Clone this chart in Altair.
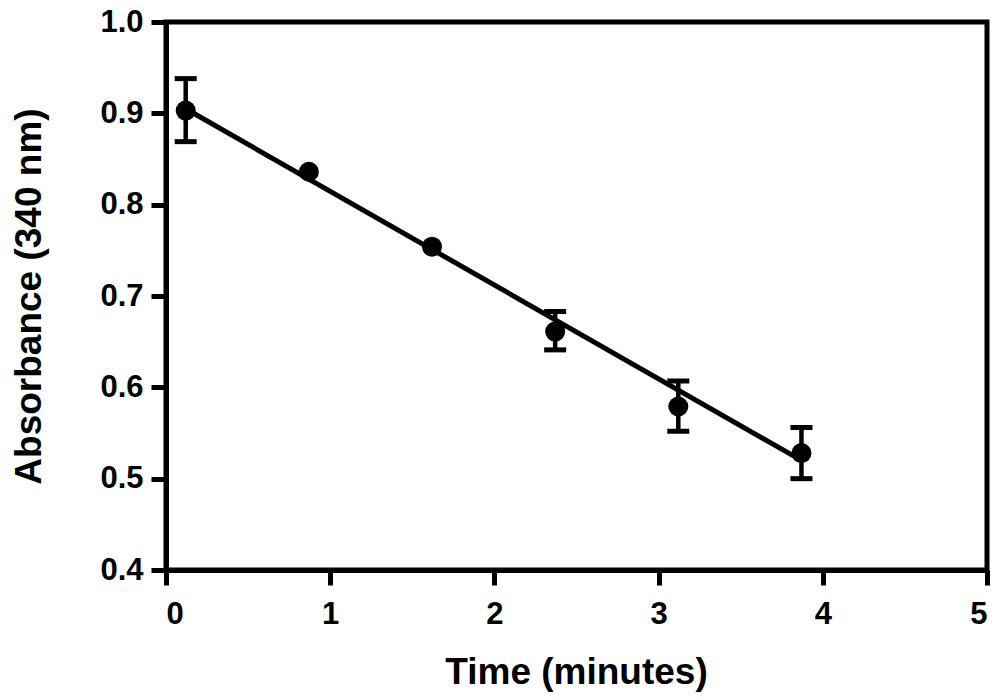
import altair as alt
import pandas as pd

# Absorbance at 340 nm over time (mean ± SD)
time_min = [0.12, 0.87, 1.62, 2.37, 3.12, 3.87]
absorbance = [0.903, 0.836, 0.754, 0.661, 0.579, 0.528]
err_low = [0.869, 0.836, 0.754, 0.641, 0.552, 0.500]
err_high = [0.938, 0.836, 0.754, 0.683, 0.607, 0.556]

# Linear fit endpoints
fit_time = [0.12, 3.87]
fit_abs = [0.905, 0.520]

x_ticks = [0, 1, 2, 3, 4, 5]
y_ticks = [0.4, 0.5, 0.6, 0.7, 0.8, 0.9, 1.0]

pts = pd.DataFrame({"t": time_min, "a": absorbance, "lo": err_low, "hi": err_high})
fit = pd.DataFrame({"t": fit_time, "a": fit_abs})
bars = pts[pts["hi"] > pts["lo"]]

FONT = "Liberation Sans"

x_enc = alt.X(
    "t:Q",
    scale=alt.Scale(domain=[0, 5], nice=False, zero=False),
    axis=alt.Axis(
        title="Time (minutes)",
        values=x_ticks,
        format="d",
        titleX=410,
        titleY=113,
        titleBaseline="alphabetic",
    ),
)
y_enc = alt.Y(
    "a:Q",
    scale=alt.Scale(domain=[0.4, 1.0], nice=False, zero=False),
    axis=alt.Axis(
        title="Absorbance (340 nm)",
        values=y_ticks,
        format=".1f",
        titleX=-126,
        titleY=274,
        titleBaseline="alphabetic",
        labelBaseline="middle",
    ),
)

line = alt.Chart(fit).mark_line(color="black", strokeWidth=5).encode(x=x_enc, y=y_enc)

stems = alt.Chart(bars).mark_rule(color="black", strokeWidth=4.5, opacity=1).encode(
    x="t:Q", y="lo:Q", y2="hi:Q"
)
caps_hi = alt.Chart(bars).mark_tick(
    color="black", orient="horizontal", size=22, thickness=5, opacity=1
).encode(x="t:Q", y="hi:Q")
caps_lo = alt.Chart(bars).mark_tick(
    color="black", orient="horizontal", size=22, thickness=5, opacity=1
).encode(x="t:Q", y="lo:Q")

dots = alt.Chart(pts).mark_point(
    filled=True, shape="circle", size=400, color="black", opacity=1
).encode(x="t:Q", y="a:Q")

chart = (
    alt.layer(line, stems, caps_hi, caps_lo, dots)
    .properties(
        width=821,
        height=548,
        autosize=alt.AutoSizeParams(type="none"),
        padding={"left": 166, "top": 22, "right": 13, "bottom": 130},
        background="white",
    )
    .configure_view(stroke="black", strokeWidth=5)
    .configure_axis(
        grid=False,
        domainColor="black",
        domainWidth=5,
        tickColor="black",
        tickWidth=5,
        tickSize=15,
        labelFont=FONT,
        labelFontSize=31,
        labelFontWeight="bold",
        labelColor="black",
        titleFont=FONT,
        titleFontSize=37,
        titleFontWeight="bold",
        titleColor="black",
        labelPadding=8,
    )
    .configure_axisX(labelPadding=14)
)

chart.save("out.html", embed_options={"renderer": "svg", "actions": False})
